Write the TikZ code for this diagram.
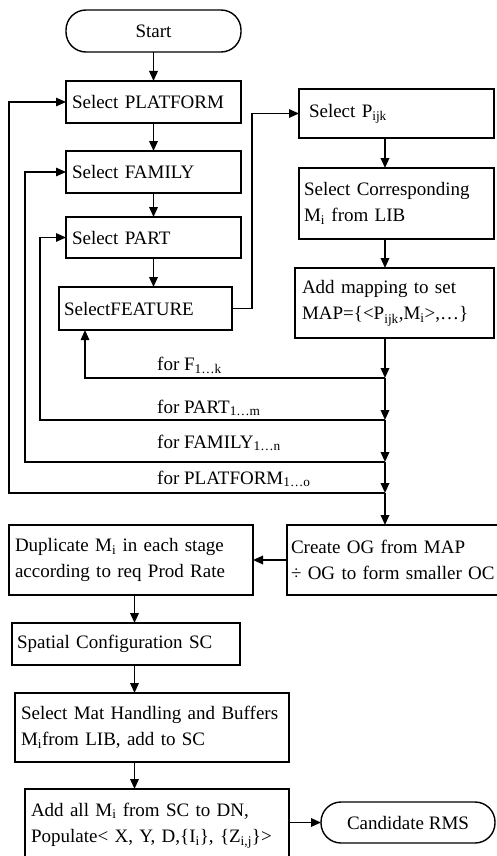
\documentclass[tikz,border=0pt]{standalone}
\usepackage{fontspec}
\setmainfont{Liberation Serif}
\usetikzlibrary{arrows.meta,calc}
\newcommand\Lb[1]{\makebox[0pt][l]{#1}}
\begin{document}
\begin{tikzpicture}[x=1pt,y=-1pt,
  box/.style={draw, line width=1.4pt, rectangle, align=left, outer sep=0pt,
    font=\fontsize{19pt}{26.5pt}\selectfont, inner ysep=0pt},
  term/.style={draw, line width=1.4pt, rounded corners=20pt, align=center, outer sep=0pt,
    font=\fontsize{19pt}{26.5pt}\selectfont, inner sep=0pt},
  arr/.style={line width=1.8pt, -{Triangle[length=10pt,width=8.5pt]}},
  fb/.style={line width=1.4pt, -{Triangle[length=10pt,width=8.5pt]}},
  lbl/.style={font=\fontsize{19pt}{26.5pt}\selectfont, anchor=base west, inner sep=0pt}
]
\useasboundingbox (0,0) rectangle (497,856);
\clip (0,0) rectangle (497,856);

% left column
\node[term, minimum width=175pt, minimum height=42pt] (start) at (153.5,31) {Start};
\node[box, text width=163pt, inner xsep=6pt, minimum height=42pt] (plat) at (153.5,102) {\Lb{Select PLATFORM}};
\node[box, text width=163pt, inner xsep=6pt, minimum height=42pt] (fam) at (153.5,172) {\Lb{Select FAMILY}};
\node[box, text width=163pt, inner xsep=6pt, minimum height=41pt] (part) at (153.5,237.5) {\Lb{Select PART}};
\node[box, text width=163pt, inner xsep=5pt, minimum height=43pt] (feat) at (145.5,308.5) {\Lb{SelectFEATURE}};

% right column
\node[box, text width=175pt, inner xsep=10pt, minimum height=49pt] (pijk) at (396.5,113.5) {\Lb{Select P\textsubscript{ijk}}};
\node[box, text width=185pt, inner xsep=5pt, minimum height=71pt] (corr) at (396.5,203.5) {\Lb{Select Corresponding}\\\Lb{M\textsubscript{i} from LIB}};
\node[box, text width=185pt, inner xsep=7pt, minimum height=70pt] (addmap) at (394.5,303) {\Lb{Add mapping to set}\\\Lb{MAP=\{<P\textsubscript{ijk},M\textsubscript{i}>,\dots\}}};

% bottom part
\node[box, text width=232pt, inner xsep=6pt, minimum height=70pt] (dup) at (131,560) {\Lb{Duplicate M\textsubscript{i} in each stage}\\\Lb{according to req Prod Rate}};
\node[box, text width=205pt, inner xsep=4pt, minimum height=70pt] (cog) at (393.5,560) {\Lb{Create OG from MAP}\\\Lb{÷ OG to form smaller OC}};
\node[box, text width=218pt, inner xsep=5pt, minimum height=42pt] (sc) at (126,644) {\Lb{Spatial Configuration SC}};
\node[box, text width=262pt, inner xsep=6pt, minimum height=69pt] (mat) at (152,727.5) {\Lb{Select Mat Handling and Buffers}\\\Lb{M\textsubscript{i}from LIB, add to SC}};
\node[box, text width=252pt, inner xsep=6pt, minimum height=73pt] (addall) at (157,825.5) {\Lb{Add all M\textsubscript{i} from SC to DN,}\\\Lb{Populate< X, Y, D,\{I\textsubscript{i}\}, \{Z\textsubscript{i,j}\}>}};
\node[term, minimum width=174pt, minimum height=41pt] (cand) at (408,822.5) {Candidate RMS};

% main flow
\draw[arr] (start.south) -- (plat.north);
\draw[arr] (plat.south) -- (fam.north);
\draw[arr] (fam.south) -- (part.north);
\draw[arr] (part.south) -- (part.south |- feat.north);
\draw[fb] (feat.east) -- ++(20,0) |- (pijk.west);

\coordinate (col) at (385,0);
\draw[arr] (pijk.south -| col) -- (corr.north -| col);
\draw[arr] (corr.south -| col) -- (addmap.north -| col);

\coordinate (j1) at (385,378);
\coordinate (j2) at (385,420);
\coordinate (j3) at (385,462);
\coordinate (j4) at (385,493);
\draw[arr] (addmap.south -| col) -- (j1);
\draw[arr] (j1) -- (j2);
\draw[arr] (j2) -- (j3);
\draw[arr] (j3) -- (j4);
\draw[arr] (j4) -- (cog.north -| col);

% feedback loops
\coordinate (x1) at (85,0);
\coordinate (x2) at (40,0);
\coordinate (x3) at (25,0);
\coordinate (x4) at (9,0);
\draw[fb] (j1) -| (feat.south -| x1);
\draw[fb] (j2) -- (j2 -| x2) |- (part.west);
\draw[fb] (j3) -- (j3 -| x3) |- (fam.west);
\draw[fb] (j4) -- (j4 -| x4) |- (plat.west);

\node[lbl] (lf) at (157,370) {for F\textsubscript{1\dots k}};
\node[lbl] (lp) at (157,413) {for PART\textsubscript{1\dots m}};
\node[lbl] (lfa) at (157,448) {for FAMILY\textsubscript{1\dots n}};
\node[lbl] (lpl) at (157,484) {for PLATFORM\textsubscript{1\dots o}};

% bottom flow
\coordinate (bx) at (134.5,0);
\draw[arr] (cog.west) -- (dup.east);
\draw[arr] (dup.south -| bx) -- (sc.north -| bx);
\draw[arr] (sc.south -| bx) -- (mat.north -| bx);
\draw[arr] (mat.south -| bx) -- (addall.north -| bx);
\draw[arr] (addall.east |- cand.west) -- (cand.west);
\end{tikzpicture}
\end{document}
